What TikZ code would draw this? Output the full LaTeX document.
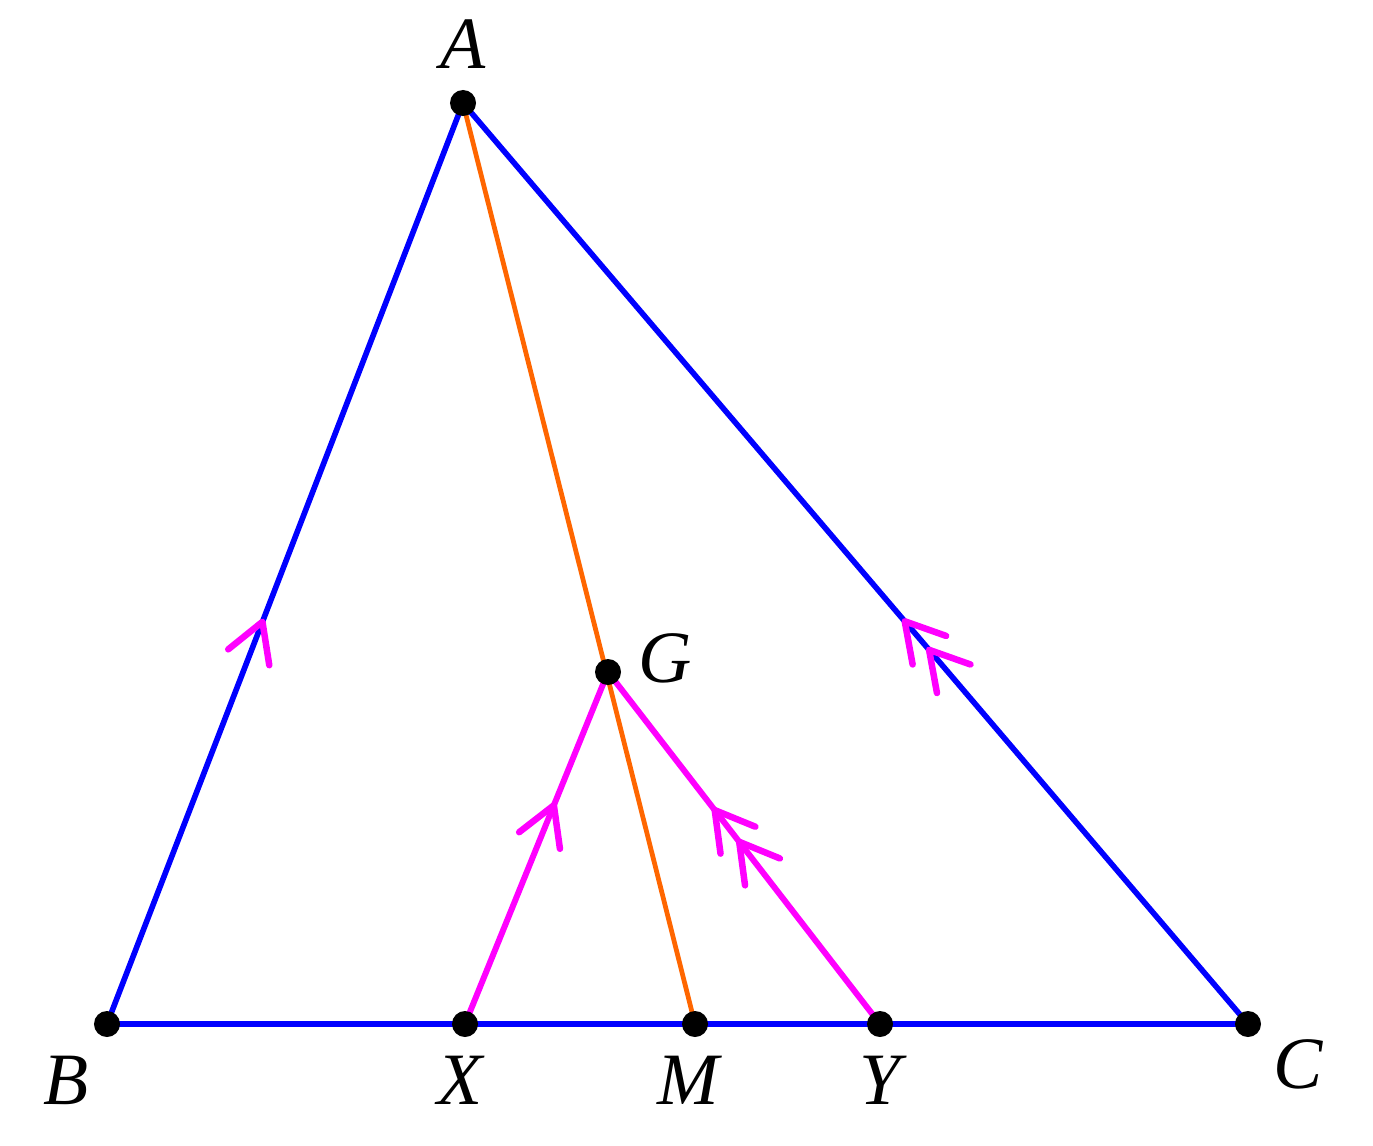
\documentclass[tikz,border=0pt]{standalone}
\usepackage{fontspec}
\setmainfont{Liberation Serif}
\usepackage{tikz}
\usetikzlibrary{arrows.meta,decorations.markings}

\definecolor{sideblue}{RGB}{0,0,255}
\definecolor{medorange}{RGB}{255,102,0}
\definecolor{parpink}{RGB}{255,0,255}

\tikzset{
    side/.style={sideblue, line width=1.6pt},
    median/.style={medorange, line width=1.35pt},
    parline/.style={parpink, line width=1.7pt},
    barb/.tip={Straight Barb[length=0.38cm, width=0.44cm, line width=0.065cm, round, color=parpink]},
    one/.style={postaction={decorate, decoration={markings,
        mark=at position #1 with {\arrow{barb}}}}},
    two/.style 2 args={postaction={decorate, decoration={markings,
        mark=at position #1 with {\arrow{barb}},
        mark=at position #2 with {\arrow{barb}}}}},
    pt/.style={fill=black},
    lbl/.style={font=\fontsize{21}{25}\selectfont\itshape}
}

\begin{document}
\begin{tikzpicture}[x=0.01cm, y=-0.01cm]
        \useasboundingbox (0,0) rectangle (1373,1145);
        \coordinate (A) at (463,103);
        \coordinate (B) at (107,1024);
        \coordinate (C) at (1248,1024);
        \coordinate (X) at (465,1024);
        \coordinate (M) at (695,1024);
        \coordinate (Y) at (880,1024);
        \coordinate (G) at (608,672);
        \draw [side] (B) -- (C);
        \draw [side, one=0.44] (B) -- (A);
        \draw [side, two={0.409}{0.44}] (C) -- (A);
        \draw [median] (A) -- (M);
        \draw [parline, one=0.63] (X) -- (G);
        \draw [parline, two={0.525}{0.615}] (Y) -- (G);
        \foreach \p in {A,B,C,X,M,Y,G}
            \fill [pt] (\p) circle [radius=0.13cm];
        \node [lbl] (lA) at (463,44) {A};
        \node [lbl] (lB) at (66,1080) {B};
        \node [lbl] (lX) at (460,1080) {X};
        \node [lbl] (lM) at (688,1080) {M};
        \node [lbl] (lY) at (880,1080) {Y};
        \node [lbl] (lC) at (1298,1064) {C};
        \node [lbl] (lG) at (665,658) {G};
    \end{tikzpicture}
\end{document}
